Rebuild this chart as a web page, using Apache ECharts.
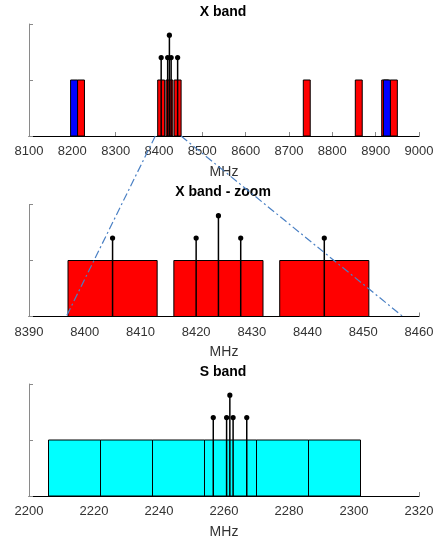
<!DOCTYPE html>
<html><head><meta charset="utf-8">
<script src="https://cdn.jsdelivr.net/npm/echarts@6/dist/echarts.min.js"></script>
<style>html,body{margin:0;padding:0;background:#fff}#c{width:437px;height:541px}</style>
</head><body><div id="c"></div>
<script>
// ---- data ----
const titles = ['X band', 'X band - zoom', 'S band'];
const axisName = 'MHz';
const xTicksTop = [8100, 9000, 100];
const xTicksZoom = [8390, 8460, 10];
const xTicksS = [2200, 2320, 20];
const levelTicks = [0, 2, 1];

const bandLevel = 1;
const xRedBands = [[8212, 8228], [8397, 8413], [8416, 8432], [8435, 8451], [8733, 8749], [8853, 8869], [8914, 8930], [8934, 8950]];
const xBlueBands = [[8196, 8212], [8918, 8934]];
const sCyanBands = [[2206, 2222], [2222, 2238], [2238, 2254], [2254, 2270], [2270, 2286], [2286, 2302]];

const xStemFreq = [8405, 8420, 8424, 8428, 8443];
const xStemLevel = [1.4, 1.4, 1.8, 1.4, 1.4];
const sStemFreq = [2256.7, 2260.8, 2261.8, 2262.8, 2267.0];
const sStemLevel = [1.4, 1.4, 1.8, 1.4, 1.4];

const zoomFromTop = [8391.5, 8450.8];
const zoomToBottom = [8396.7, 8457.1];

// ---- chart ----
const FONT = "'Liberation Sans', Arial, Helvetica, sans-serif";
const AXIS_GRAY = '#8a8a8a';
const TEXT = '#333333';

const chart = echarts.init(document.getElementById('c'), null, {renderer: 'canvas'});

function bandRender(color) {
  return function (params, api) {
    const s = api.coord([api.value(0), 0]);
    const e = api.coord([api.value(1), api.value(2)]);
    return {
      type: 'rect',
      shape: {x: s[0], y: e[1], width: e[0] - s[0], height: s[1] - e[1]},
      style: {fill: color, stroke: '#000', lineWidth: 1}
    };
  };
}
function stemRender(params, api) {
  const b = api.coord([api.value(0), 0]);
  const t = api.coord([api.value(0), api.value(1)]);
  return {
    type: 'group',
    children: [
      {type: 'line', shape: {x1: b[0], y1: b[1], x2: t[0], y2: t[1]}, style: {stroke: '#000', lineWidth: 1.5}},
      {type: 'circle', shape: {cx: t[0], cy: t[1], r: 2.6}, style: {fill: '#000'}}
    ]
  };
}
function bandData(bands, lo, hi) {
  return bands.filter(b => b[1] >= lo && b[0] <= hi).map(b => [b[0], b[1], bandLevel]);
}
function stemData(f, l) { return f.map((v, i) => [v, l[i]]); }

const tops = [24, 204.5, 384];
const tickSets = [xTicksTop, xTicksZoom, xTicksS];

const grids = tops.map(t => ({left: 29, right: 18, top: t, height: 112}));
const xAxes = tickSets.map((tk, i) => ({
  type: 'value', gridIndex: i, min: tk[0], max: tk[1], interval: tk[2],
  name: axisName, nameLocation: 'middle', nameGap: 29,
  nameTextStyle: {fontFamily: FONT, fontSize: 14, color: TEXT},
  axisLine: {show: true, lineStyle: {color: '#000', width: 1}},
  axisTick: {show: true, inside: true, length: 4, lineStyle: {color: AXIS_GRAY}},
  axisLabel: {show: true, margin: 9, fontFamily: FONT, fontSize: 13, color: TEXT,
    formatter: v => String(v)},
  splitLine: {show: false}
}));
const yAxes = tickSets.map((tk, i) => ({
  type: 'value', gridIndex: i, min: levelTicks[0], max: levelTicks[1], interval: levelTicks[2],
  axisLine: {show: true, lineStyle: {color: AXIS_GRAY, width: 1}},
  axisTick: {show: true, inside: true, length: 4, lineStyle: {color: AXIS_GRAY}},
  axisLabel: {show: false},
  splitLine: {show: false}
}));

const series = [];
function addBands(idx, bands, color, tk) {
  series.push({type: 'custom', xAxisIndex: idx, yAxisIndex: idx, renderItem: bandRender(color),
    data: bandData(bands, tk[0], tk[1]), encode: {x: [0, 1], y: 2}, z: 2});
}
function addStems(idx, f, l) {
  series.push({type: 'custom', xAxisIndex: idx, yAxisIndex: idx, renderItem: stemRender,
    data: stemData(f, l), encode: {x: 0, y: 1}, z: 3});
}
addBands(0, xRedBands, '#ff0000', xTicksTop);
addBands(0, xBlueBands, '#0000ff', xTicksTop);
addStems(0, xStemFreq, xStemLevel);
addBands(1, xRedBands, '#ff0000', xTicksZoom);
addBands(1, xBlueBands, '#0000ff', xTicksZoom);
addStems(1, xStemFreq, xStemLevel);
addBands(2, sCyanBands, '#00ffff', xTicksS);
addStems(2, sStemFreq, sStemLevel);

const titleTops = [5, 185.5, 365.5];
chart.setOption({
  animation: false,
  backgroundColor: '#fff',
  title: titles.map((t, i) => ({
    text: t, left: 223, top: titleTops[i], textAlign: 'center', padding: 0,
    textStyle: {fontFamily: FONT, fontSize: 14, fontWeight: 'bold', color: '#000'}
  })),
  grid: grids, xAxis: xAxes, yAxis: yAxes, series: series
});

const lines = zoomFromTop.map((f, i) => {
  const a = chart.convertToPixel({xAxisIndex: 0, yAxisIndex: 0}, [f, 0]);
  const b = chart.convertToPixel({xAxisIndex: 1, yAxisIndex: 1}, [zoomToBottom[i], 0]);
  return {type: 'line', z: 100, silent: true,
    shape: {x1: a[0], y1: a[1], x2: b[0], y2: b[1]},
    style: {stroke: '#4a80c4', lineWidth: 1.2, lineDash: [8, 3, 2, 3]}};
});
chart.setOption({graphic: lines});
</script></body></html>
